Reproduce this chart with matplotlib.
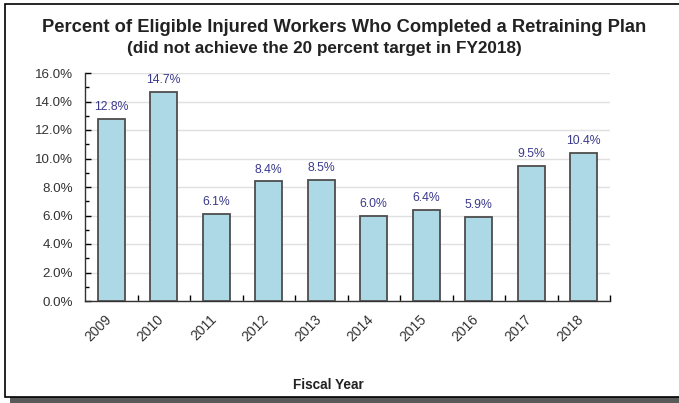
import matplotlib.pyplot as plt
import matplotlib.transforms as mtransforms
from matplotlib.patches import Rectangle
from matplotlib.ticker import MultipleLocator, FuncFormatter

years = ['2009', '2010', '2011', '2012', '2013', '2014', '2015', '2016', '2017', '2018']
pct = [12.8, 14.7, 6.1, 8.4, 8.5, 6.0, 6.4, 5.9, 9.5, 10.4]

W, H = 679, 403
fig = plt.figure(figsize=(W / 100, H / 100), dpi=100)
plt.rcParams['font.family'] = ['Liberation Sans', 'DejaVu Sans']

# outer frame with shadow
fig.patches.append(Rectangle((10 / W, 0), 1, 6 / H, transform=fig.transFigure,
                             facecolor='#5a5a5a', edgecolor='none', zorder=-3))
fig.patches.append(Rectangle((5 / W, 6 / H), 1, (H - 10) / H, transform=fig.transFigure,
                             facecolor='white', edgecolor='black', linewidth=1.2, zorder=-2))

ax = fig.add_axes([85 / W, (H - 301) / H, 525 / W, 228 / H])
ax.set_zorder(1)
ax.patch.set_alpha(0)
x = list(range(len(years)))
ax.bar(x, pct, width=0.52, color='#add8e6', edgecolor='#4d4d4d', linewidth=1.3, zorder=3)
for xi, v in zip(x, pct):
    ax.text(xi, v + 0.4, f'{v:.1f}%', ha='center', va='bottom', fontsize=8.8,
            color='#3a3a8c', zorder=4)

ax.set_xlim(-0.5, len(years) - 0.5)
ax.set_ylim(0, 16)
ax.yaxis.set_major_locator(MultipleLocator(2))
ax.yaxis.set_minor_locator(MultipleLocator(1))
ax.yaxis.set_major_formatter(FuncFormatter(lambda v, p: f'{v:.1f}%'))
ax.grid(axis='y', color='#e0e0e0', linewidth=1, zorder=0)
ax.tick_params(axis='y', which='both', direction='in', length=4, width=1,
               labelsize=9.6, labelcolor='#333333', pad=8.5)
ax.tick_params(axis='y', which='minor', length=3)

ax.set_xticks(x)
ax.set_xticklabels(years, rotation=45, fontsize=10, color='#333333',
                   ha='right', va='top', rotation_mode='anchor')
ax.tick_params(axis='x', which='major', length=0, pad=8)
shift = mtransforms.ScaledTranslation(-7 / 100, 0, fig.dpi_scale_trans)
for lbl in ax.get_xticklabels():
    lbl.set_transform(lbl.get_transform() + shift)
ax.set_xticks([i + 0.5 for i in x], minor=True)
ax.tick_params(axis='x', which='minor', direction='in', length=4, width=1)

for s in ['top', 'right']:
    ax.spines[s].set_visible(False)
for s in ['left', 'bottom']:
    ax.spines[s].set_color('#333333')
    ax.spines[s].set_linewidth(1)

fig.text(344 / W, 1 - 27 / H, 'Percent of Eligible Injured Workers Who Completed a Retraining Plan',
         ha='center', va='center', fontsize=13.2, fontweight='bold', color='#222222')
fig.text(324 / W, 1 - 48 / H, '(did not achieve the 20 percent target in FY2018)',
         ha='center', va='center', fontsize=12.3, fontweight='bold', color='#222222')
fig.text(328 / W, 1 - 385 / H, 'Fiscal Year', ha='center', va='center',
         fontsize=9.8, fontweight='bold', color='#222222')

fig.savefig('out.png', dpi=100)
